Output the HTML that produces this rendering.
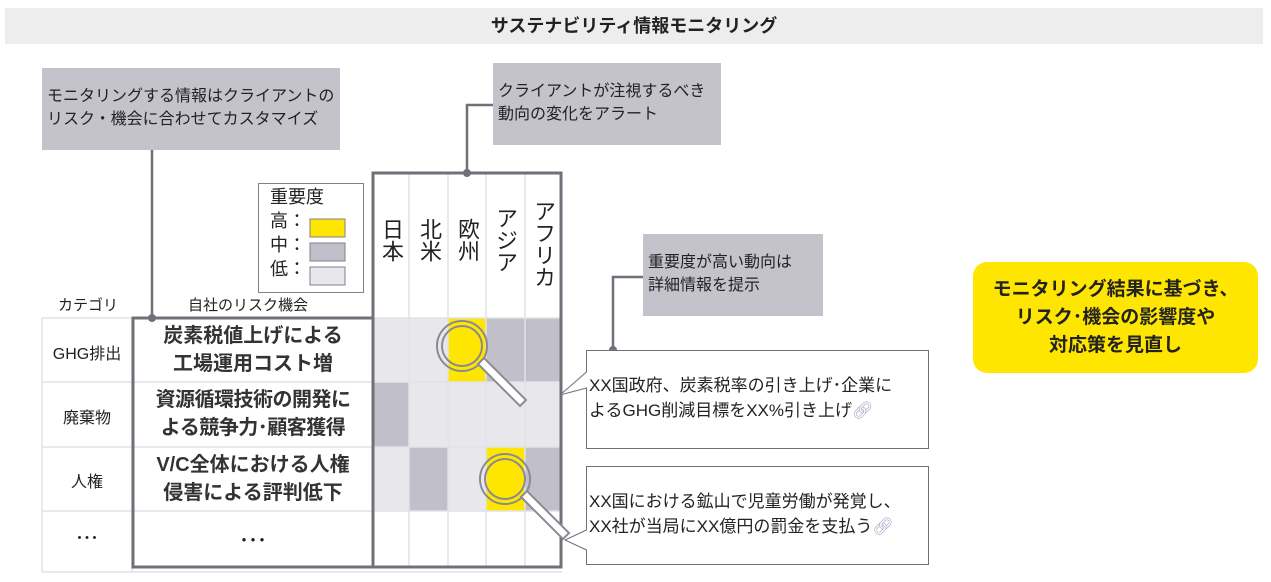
<!DOCTYPE html>
<html><head><meta charset="utf-8"><style>
*{margin:0;padding:0;box-sizing:border-box}
body{width:1271px;height:582px;background:#fff;position:relative;overflow:hidden;font-family:"Liberation Sans","Noto Sans CJK JP",sans-serif;color:#222}
.a{position:absolute}
.gb{background:#c4c3cc;font-size:16px;line-height:23px;color:#222;white-space:nowrap}
.cell{position:absolute}
.vt{position:absolute;writing-mode:vertical-rl;font-size:22px;line-height:24px}
</style></head><body>
<div class="a" style="left:5px;top:8px;width:1258px;height:36px;background:#ededee;font-weight:bold;font-size:18px;text-align:center;line-height:36px;color:#222">サステナビリティ情報モニタリング</div>

<div class="a gb" style="left:42px;top:68px;width:298px;height:82px;padding:17px 0 0 5px">モニタリングする情報はクライアントの<br>リスク・機会に合わせてカスタマイズ</div>
<div class="a gb" style="left:493px;top:63px;width:228px;height:82px;padding:17px 0 0 5px">クライアントが注視するべき<br>動向の変化をアラート</div>
<div class="a gb" style="left:643px;top:234px;width:180px;height:82px;padding:17px 0 0 5px">重要度が高い動向は<br>詳細情報を提示</div>

<div class="cell" style="left:373px;top:318px;width:188px;height:64px;background:#e8e8ec"></div>
<div class="cell" style="left:448px;top:318px;width:38px;height:64px;background:#ffe600"></div>
<div class="cell" style="left:486px;top:318px;width:75px;height:64px;background:#c0bfca"></div>
<div class="cell" style="left:373px;top:382px;width:188px;height:65px;background:#e8e8ec"></div>
<div class="cell" style="left:373px;top:382px;width:36px;height:65px;background:#c0bfca"></div>
<div class="cell" style="left:373px;top:447px;width:188px;height:64px;background:#e8e8ec"></div>
<div class="cell" style="left:409px;top:447px;width:39px;height:64px;background:#c0bfca"></div>
<div class="cell" style="left:486px;top:447px;width:39px;height:64px;background:#ffe600"></div>
<div class="cell" style="left:525px;top:447px;width:36px;height:64px;background:#c0bfca"></div>

<svg class="a" style="left:0;top:0" width="1271" height="582">
<g stroke="#e2e2e6" stroke-width="1.5" fill="none">
<line x1="42" y1="318" x2="562" y2="318"/><line x1="42" y1="382" x2="562" y2="382"/><line x1="42" y1="447" x2="562" y2="447"/><line x1="42" y1="511" x2="562" y2="511"/><line x1="42" y1="572" x2="562" y2="572"/>
<line x1="42" y1="318" x2="42" y2="572"/><line x1="132" y1="318" x2="132" y2="572"/>
<line x1="409" y1="174" x2="409" y2="567"/><line x1="448" y1="174" x2="448" y2="567"/><line x1="486" y1="174" x2="486" y2="567"/><line x1="525" y1="174" x2="525" y2="567"/>
</g>
<g stroke="#707078" stroke-width="3" fill="none">
<rect x="373" y="173" width="188" height="394"/>
<rect x="133" y="318" width="240" height="249"/>
<polyline points="152,150 152,318" stroke-width="2.5"/>
<polyline points="493,105 467,105 467,173" stroke-width="2.5"/>
<polyline points="643,277 613,277 613,350" stroke-width="2.5"/>
</g>
<g fill="#707078"><circle cx="152" cy="318" r="4"/><circle cx="467" cy="173" r="4"/><circle cx="613" cy="350" r="4"/></g>
<rect x="258.5" y="183.5" width="105" height="109" fill="#fff" stroke="#808088"/>
<rect x="310" y="219" width="35" height="18" fill="#ffe600" stroke="#808088"/>
<rect x="310" y="243" width="35" height="18" fill="#c0bfca" stroke="#808088"/>
<rect x="310" y="267" width="35" height="18" fill="#e8e8ec" stroke="#808088"/>
<g fill="none" stroke="#8a8a92" stroke-width="2">
<circle cx="462" cy="346" r="25"/><circle cx="462" cy="346" r="20"/>
<path d="M478,364 L484,358 L526,400 L520,406 Z" fill="#fff"/>
<circle cx="505" cy="479" r="25"/><circle cx="505" cy="479" r="20"/>
<path d="M521,497 L527,491 L569,533 L563,539 Z" fill="#fff"/>
</g>
<path d="M586.5,350.5 H928.5 V448.5 H586.5 V388 L560,395 L586.5,372 Z" fill="#fff" stroke="#707078" stroke-width="1"/>
<path d="M586.5,466.5 H928.5 V564.5 H586.5 V550 L565,540 L586.5,530 Z" fill="#fff" stroke="#707078" stroke-width="1"/>
</svg>
<div class="a" style="left:270px;top:185px;font-size:18px;line-height:24px">重要度<br>高：<br>中：<br>低：</div>

<div class="vt" style="left:379px;top:218px">日本</div>
<div class="vt" style="left:417px;top:218px">北米</div>
<div class="vt" style="left:455px;top:218px">欧州</div>
<div class="vt" style="left:493px;top:207px">アジア</div>
<div class="vt" style="left:531px;top:200px">アフリカ</div>

<div class="a" style="left:58px;top:294px;font-size:15px">カテゴリ</div>
<div class="a" style="left:188px;top:294px;font-size:15px">自社のリスク機会</div>

<div class="a" style="left:42px;top:340px;width:90px;text-align:center;font-size:16px">GHG排出</div>
<div class="a" style="left:42px;top:404px;width:90px;text-align:center;font-size:16px">廃棄物</div>
<div class="a" style="left:42px;top:468px;width:90px;text-align:center;font-size:16px">人権</div>
<div class="a" style="left:42px;top:527px;width:90px;text-align:center;font-size:15px;font-weight:bold">･･･</div>

<div class="a" style="left:133px;top:322px;width:240px;text-align:center;font-size:20px;line-height:28px;font-weight:bold;color:#333;white-space:nowrap">炭素税値上げによる<br>工場運用コスト増</div>
<div class="a" style="left:133px;top:386px;width:240px;text-align:center;font-size:20px;line-height:28px;font-weight:bold;color:#333;white-space:nowrap;letter-spacing:-0.5px">資源循環技術の開発に<br>よる競争力･顧客獲得</div>
<div class="a" style="left:133px;top:451px;width:240px;text-align:center;font-size:20px;line-height:28px;font-weight:bold;color:#333;white-space:nowrap">V/C全体における人権<br>侵害による評判低下</div>
<div class="a" style="left:133px;top:527px;width:240px;text-align:center;font-size:18px;font-weight:bold">･･･</div>

<div class="a" style="left:589px;top:373px;font-size:17px;line-height:25px;white-space:nowrap">XX国政府、炭素税率の引き上げ･企業に<br>よるGHG削減目標をXX%引き上げ<span style="color:#a9a0c8">&#x1F517;&#xFE0E;</span></div>
<div class="a" style="left:589px;top:489px;font-size:17px;line-height:25px;white-space:nowrap">XX国における鉱山で児童労働が発覚し、<br>XX社が当局にXX億円の罰金を支払う<span style="color:#a9a0c8">&#x1F517;&#xFE0E;</span></div>

<div class="a" style="left:973px;top:262px;width:285px;height:111px;background:#ffe600;border-radius:14px;text-align:center;font-weight:bold;font-size:19px;line-height:28px;padding-top:14px;color:#222">モニタリング結果に基づき、<br>リスク･機会の影響度や<br>対応策を見直し</div>
</body></html>
